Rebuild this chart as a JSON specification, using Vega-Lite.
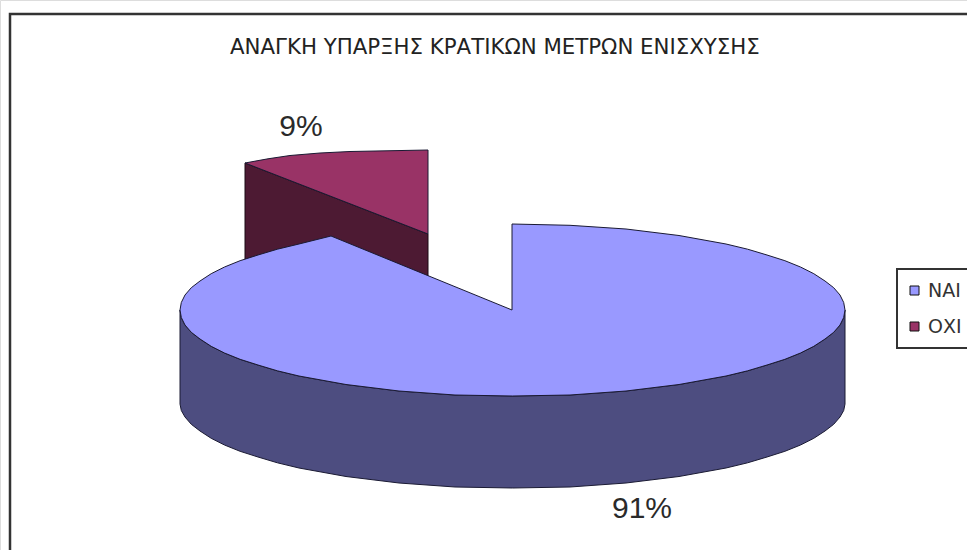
{
  "$schema": "https://vega.github.io/schema/vega-lite/v6.json",
  "width": 967,
  "height": 550,
  "padding": 0,
  "autosize": {"type": "none"},
  "background": "#ffffff",
  "title": {
    "text": "ΑΝΑΓΚΗ ΥΠΑΡΞΗΣ ΚΡΑΤΙΚΩΝ ΜΕΤΡΩΝ ΕΝΙΣΧΥΣΗΣ",
    "anchor": "start",
    "frame": "group",
    "dx": 230,
    "dy": 62,
    "font": "DejaVu Sans",
    "fontSize": 21.3,
    "fontWeight": "normal",
    "color": "#222222"
  },
  "config": {"legend": {"strokeWidth": 2}},
  "datasets": {
    "outlines": [
      {"part": "frame", "ord": 0, "across": 10, "down": 550},
      {"part": "frame", "ord": 1, "across": 10, "down": 14},
      {"part": "frame", "ord": 2, "across": 967, "down": 14},

      {"part": "wall", "ord": 0, "across": 845, "down": 310},
      {"part": "wall", "ord": 1, "across": 843.7, "down": 317.5},
      {"part": "wall", "ord": 2, "across": 840, "down": 325},
      {"part": "wall", "ord": 3, "across": 833.7, "down": 332.3},
      {"part": "wall", "ord": 4, "across": 825, "down": 339},
      {"part": "wall", "ord": 5, "across": 813.8, "down": 346.3},
      {"part": "wall", "ord": 6, "across": 800.5, "down": 353},
      {"part": "wall", "ord": 7, "across": 784.9, "down": 359.3},
      {"part": "wall", "ord": 8, "across": 767, "down": 365},
      {"part": "wall", "ord": 9, "across": 747.6, "down": 370.8},
      {"part": "wall", "ord": 10, "across": 726, "down": 376},
      {"part": "wall", "ord": 11, "across": 679, "down": 384.5},
      {"part": "wall", "ord": 12, "across": 626, "down": 391},
      {"part": "wall", "ord": 13, "across": 570, "down": 395},
      {"part": "wall", "ord": 14, "across": 512.5, "down": 396},
      {"part": "wall", "ord": 15, "across": 455, "down": 395},
      {"part": "wall", "ord": 16, "across": 399, "down": 391},
      {"part": "wall", "ord": 17, "across": 346, "down": 384.5},
      {"part": "wall", "ord": 18, "across": 299, "down": 376},
      {"part": "wall", "ord": 19, "across": 277.4, "down": 370.8},
      {"part": "wall", "ord": 20, "across": 258, "down": 365},
      {"part": "wall", "ord": 21, "across": 240.1, "down": 359.3},
      {"part": "wall", "ord": 22, "across": 224.5, "down": 353},
      {"part": "wall", "ord": 23, "across": 211.2, "down": 346.3},
      {"part": "wall", "ord": 24, "across": 200, "down": 339},
      {"part": "wall", "ord": 25, "across": 191.3, "down": 332.3},
      {"part": "wall", "ord": 26, "across": 185, "down": 325},
      {"part": "wall", "ord": 27, "across": 181.3, "down": 317.5},
      {"part": "wall", "ord": 28, "across": 180, "down": 310},
      {"part": "wall", "ord": 29, "across": 180, "down": 404},
      {"part": "wall", "ord": 30, "across": 181.3, "down": 410.5},
      {"part": "wall", "ord": 31, "across": 185, "down": 417},
      {"part": "wall", "ord": 32, "across": 191.3, "down": 424.3},
      {"part": "wall", "ord": 33, "across": 200, "down": 431},
      {"part": "wall", "ord": 34, "across": 211.2, "down": 438.3},
      {"part": "wall", "ord": 35, "across": 224.5, "down": 445},
      {"part": "wall", "ord": 36, "across": 240.1, "down": 451.3},
      {"part": "wall", "ord": 37, "across": 258, "down": 457},
      {"part": "wall", "ord": 38, "across": 277.4, "down": 462.8},
      {"part": "wall", "ord": 39, "across": 299, "down": 468},
      {"part": "wall", "ord": 40, "across": 346, "down": 476.5},
      {"part": "wall", "ord": 41, "across": 399, "down": 483},
      {"part": "wall", "ord": 42, "across": 455, "down": 487},
      {"part": "wall", "ord": 43, "across": 512.5, "down": 488},
      {"part": "wall", "ord": 44, "across": 570, "down": 487},
      {"part": "wall", "ord": 45, "across": 626, "down": 483},
      {"part": "wall", "ord": 46, "across": 679, "down": 476.5},
      {"part": "wall", "ord": 47, "across": 726, "down": 468},
      {"part": "wall", "ord": 48, "across": 747.6, "down": 462.8},
      {"part": "wall", "ord": 49, "across": 767, "down": 457},
      {"part": "wall", "ord": 50, "across": 784.9, "down": 451.3},
      {"part": "wall", "ord": 51, "across": 800.5, "down": 445},
      {"part": "wall", "ord": 52, "across": 813.8, "down": 438.3},
      {"part": "wall", "ord": 53, "across": 825, "down": 431},
      {"part": "wall", "ord": 54, "across": 833.7, "down": 424.3},
      {"part": "wall", "ord": 55, "across": 840, "down": 417},
      {"part": "wall", "ord": 56, "across": 843.7, "down": 410.5},
      {"part": "wall", "ord": 57, "across": 845, "down": 404},
      {"part": "wall", "ord": 58, "across": 845, "down": 310},

      {"part": "cut", "ord": 0, "across": 245, "down": 163},
      {"part": "cut", "ord": 1, "across": 428, "down": 234},
      {"part": "cut", "ord": 2, "across": 428, "down": 300},
      {"part": "cut", "ord": 3, "across": 245, "down": 300},
      {"part": "cut", "ord": 4, "across": 245, "down": 163},

      {"part": "top", "answer": "ΝΑΙ", "ord": 0, "across": 512, "down": 224},
      {"part": "top", "answer": "ΝΑΙ", "ord": 1, "across": 570, "down": 225.3},
      {"part": "top", "answer": "ΝΑΙ", "ord": 2, "across": 626, "down": 229},
      {"part": "top", "answer": "ΝΑΙ", "ord": 3, "across": 679, "down": 235.5},
      {"part": "top", "answer": "ΝΑΙ", "ord": 4, "across": 726, "down": 244},
      {"part": "top", "answer": "ΝΑΙ", "ord": 5, "across": 747.6, "down": 249.2},
      {"part": "top", "answer": "ΝΑΙ", "ord": 6, "across": 767, "down": 255},
      {"part": "top", "answer": "ΝΑΙ", "ord": 7, "across": 784.9, "down": 260.7},
      {"part": "top", "answer": "ΝΑΙ", "ord": 8, "across": 800.5, "down": 267},
      {"part": "top", "answer": "ΝΑΙ", "ord": 9, "across": 813.8, "down": 273.7},
      {"part": "top", "answer": "ΝΑΙ", "ord": 10, "across": 825, "down": 281},
      {"part": "top", "answer": "ΝΑΙ", "ord": 11, "across": 833.7, "down": 287.7},
      {"part": "top", "answer": "ΝΑΙ", "ord": 12, "across": 840, "down": 295},
      {"part": "top", "answer": "ΝΑΙ", "ord": 13, "across": 843.7, "down": 302.5},
      {"part": "top", "answer": "ΝΑΙ", "ord": 14, "across": 845, "down": 310},
      {"part": "top", "answer": "ΝΑΙ", "ord": 15, "across": 843.7, "down": 317.5},
      {"part": "top", "answer": "ΝΑΙ", "ord": 16, "across": 840, "down": 325},
      {"part": "top", "answer": "ΝΑΙ", "ord": 17, "across": 833.7, "down": 332.3},
      {"part": "top", "answer": "ΝΑΙ", "ord": 18, "across": 825, "down": 339},
      {"part": "top", "answer": "ΝΑΙ", "ord": 19, "across": 813.8, "down": 346.3},
      {"part": "top", "answer": "ΝΑΙ", "ord": 20, "across": 800.5, "down": 353},
      {"part": "top", "answer": "ΝΑΙ", "ord": 21, "across": 784.9, "down": 359.3},
      {"part": "top", "answer": "ΝΑΙ", "ord": 22, "across": 767, "down": 365},
      {"part": "top", "answer": "ΝΑΙ", "ord": 23, "across": 747.6, "down": 370.8},
      {"part": "top", "answer": "ΝΑΙ", "ord": 24, "across": 726, "down": 376},
      {"part": "top", "answer": "ΝΑΙ", "ord": 25, "across": 679, "down": 384.5},
      {"part": "top", "answer": "ΝΑΙ", "ord": 26, "across": 626, "down": 391},
      {"part": "top", "answer": "ΝΑΙ", "ord": 27, "across": 570, "down": 395},
      {"part": "top", "answer": "ΝΑΙ", "ord": 28, "across": 512.5, "down": 396},
      {"part": "top", "answer": "ΝΑΙ", "ord": 29, "across": 455, "down": 395},
      {"part": "top", "answer": "ΝΑΙ", "ord": 30, "across": 399, "down": 391},
      {"part": "top", "answer": "ΝΑΙ", "ord": 31, "across": 346, "down": 384.5},
      {"part": "top", "answer": "ΝΑΙ", "ord": 32, "across": 299, "down": 376},
      {"part": "top", "answer": "ΝΑΙ", "ord": 33, "across": 277.4, "down": 370.8},
      {"part": "top", "answer": "ΝΑΙ", "ord": 34, "across": 258, "down": 365},
      {"part": "top", "answer": "ΝΑΙ", "ord": 35, "across": 240.1, "down": 359.3},
      {"part": "top", "answer": "ΝΑΙ", "ord": 36, "across": 224.5, "down": 353},
      {"part": "top", "answer": "ΝΑΙ", "ord": 37, "across": 211.2, "down": 346.3},
      {"part": "top", "answer": "ΝΑΙ", "ord": 38, "across": 200, "down": 339},
      {"part": "top", "answer": "ΝΑΙ", "ord": 39, "across": 191.3, "down": 332.3},
      {"part": "top", "answer": "ΝΑΙ", "ord": 40, "across": 185, "down": 325},
      {"part": "top", "answer": "ΝΑΙ", "ord": 41, "across": 181.3, "down": 317.5},
      {"part": "top", "answer": "ΝΑΙ", "ord": 42, "across": 180, "down": 310},
      {"part": "top", "answer": "ΝΑΙ", "ord": 43, "across": 181.3, "down": 302.5},
      {"part": "top", "answer": "ΝΑΙ", "ord": 44, "across": 185, "down": 295},
      {"part": "top", "answer": "ΝΑΙ", "ord": 45, "across": 191.3, "down": 287.7},
      {"part": "top", "answer": "ΝΑΙ", "ord": 46, "across": 200, "down": 281},
      {"part": "top", "answer": "ΝΑΙ", "ord": 47, "across": 211.2, "down": 273.7},
      {"part": "top", "answer": "ΝΑΙ", "ord": 48, "across": 224.5, "down": 267},
      {"part": "top", "answer": "ΝΑΙ", "ord": 49, "across": 240.1, "down": 260.7},
      {"part": "top", "answer": "ΝΑΙ", "ord": 50, "across": 258, "down": 255},
      {"part": "top", "answer": "ΝΑΙ", "ord": 51, "across": 277.4, "down": 249.2},
      {"part": "top", "answer": "ΝΑΙ", "ord": 52, "across": 299, "down": 244},
      {"part": "top", "answer": "ΝΑΙ", "ord": 53, "across": 331, "down": 236},
      {"part": "top", "answer": "ΝΑΙ", "ord": 54, "across": 512, "down": 310},
      {"part": "top", "answer": "ΝΑΙ", "ord": 55, "across": 512, "down": 224},

      {"part": "top", "answer": "ΟΧΙ", "ord": 0, "across": 245, "down": 163},
      {"part": "top", "answer": "ΟΧΙ", "ord": 1, "across": 268, "down": 158.8},
      {"part": "top", "answer": "ΟΧΙ", "ord": 2, "across": 290, "down": 155.5},
      {"part": "top", "answer": "ΟΧΙ", "ord": 3, "across": 320, "down": 153},
      {"part": "top", "answer": "ΟΧΙ", "ord": 4, "across": 350, "down": 151.5},
      {"part": "top", "answer": "ΟΧΙ", "ord": 5, "across": 428, "down": 150},
      {"part": "top", "answer": "ΟΧΙ", "ord": 6, "across": 428, "down": 234},
      {"part": "top", "answer": "ΟΧΙ", "ord": 7, "across": 245, "down": 163}
    ],
    "shares": [
      {"answer": "ΝΑΙ", "share": 0.91, "across": 642, "down": 509},
      {"answer": "ΟΧΙ", "share": 0.09, "across": 301, "down": 127}
    ]
  },
  "encoding": {
    "x": {"field": "across", "type": "quantitative", "axis": null, "scale": {"domain": [0, 967], "nice": false, "zero": false}},
    "y": {"field": "down", "type": "quantitative", "axis": null, "scale": {"domain": [550, 0], "nice": false, "zero": false}}
  },
  "layer": [
    {
      "data": {"name": "outlines"},
      "transform": [{"filter": "datum.part === 'frame'"}],
      "mark": {"type": "line", "stroke": "#333333", "strokeWidth": 2.5, "clip": false},
      "encoding": {"order": {"field": "ord", "type": "quantitative"}}
    },
    {
      "data": {"name": "outlines"},
      "transform": [{"filter": "datum.part === 'wall'"}],
      "mark": {"type": "line", "fill": "#4d4d80", "stroke": "#1a1a33", "strokeWidth": 1},
      "encoding": {"order": {"field": "ord", "type": "quantitative"}}
    },
    {
      "data": {"name": "outlines"},
      "transform": [{"filter": "datum.part === 'cut'"}],
      "mark": {"type": "line", "fill": "#4d1a33", "stroke": "#1a0a14", "strokeWidth": 1},
      "encoding": {"order": {"field": "ord", "type": "quantitative"}}
    },
    {
      "data": {"name": "outlines"},
      "transform": [{"filter": "datum.part === 'top'"}],
      "mark": {"type": "line", "stroke": "#1a1a33", "strokeWidth": 1},
      "encoding": {
        "order": {"field": "ord", "type": "quantitative"},
        "fill": {
          "field": "answer",
          "type": "nominal",
          "scale": {"domain": ["ΝΑΙ", "ΟΧΙ"], "range": ["#9999ff", "#993366"]},
          "legend": {
            "title": null,
            "orient": "none",
            "legendX": 897,
            "legendY": 269,
            "padding": 8,
            "fillColor": "#ffffff",
            "strokeColor": "#333333",
            "symbolType": "square",
            "symbolSize": 81,
            "symbolStrokeColor": "#111111",
            "symbolStrokeWidth": 1,
            "labelFont": "DejaVu Sans",
            "labelFontSize": 19,
            "labelColor": "#333333",
            "labelOffset": 4,
            "clipHeight": 27,
            "rowPadding": 9
          }
        },
        "detail": {"field": "answer"}
      }
    },
    {
      "data": {"name": "shares"},
      "mark": {"type": "text", "font": "Liberation Sans", "fontSize": 30, "color": "#2a2a2a", "align": "center", "baseline": "middle"},
      "encoding": {"text": {"field": "share", "type": "quantitative", "format": ".0%"}}
    }
  ]
}
